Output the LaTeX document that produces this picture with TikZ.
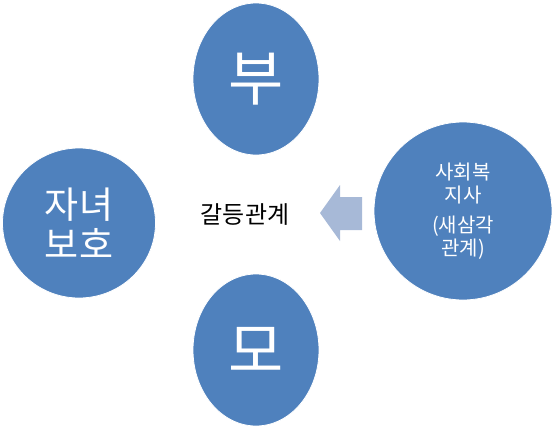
\documentclass[tikz,border=0pt]{standalone}
\usepackage{fontspec}
\setmainfont{Noto Sans CJK KR}
\usetikzlibrary{shapes.geometric}
\definecolor{blob}{HTML}{4F81BD}
\definecolor{arrowc}{HTML}{A7B9D7}
\begin{document}
\begin{tikzpicture}[x=1pt,y=-1pt,
  blobnode/.style={ellipse, fill=blob, draw=white, line width=0.8pt, inner sep=0pt, text=white, align=center}]
\useasboundingbox (0,0) rectangle (555,429);
\node[blobnode, minimum width=126pt, minimum height=152pt, font=\fontsize{60}{62}\selectfont] (fa) at (256,79) {부};
\node[blobnode, minimum width=153pt, minimum height=150pt, font=\fontsize{37}{40}\selectfont] (ch) at (79,223) {자녀\\보호};
\node[blobnode, minimum width=126pt, minimum height=152pt, font=\fontsize{60}{62}\selectfont] (mo) at (256,350) {모};
\node[blobnode, minimum width=178pt, minimum height=178pt, font=\fontsize{20}{23}\selectfont] (sw) at (463,211) {사회복\\지사\\[7pt](새삼각\\관계)};
\node[font=\fontsize{24}{26}\selectfont, text=black] (cf) at (245,215) {갈등관계};
\fill[arrowc] (320,213) -- (340,185) -- (340,197) -- (362,197) -- (362,230) -- (340,230) -- (340,241) -- cycle;
\end{tikzpicture}
\end{document}
